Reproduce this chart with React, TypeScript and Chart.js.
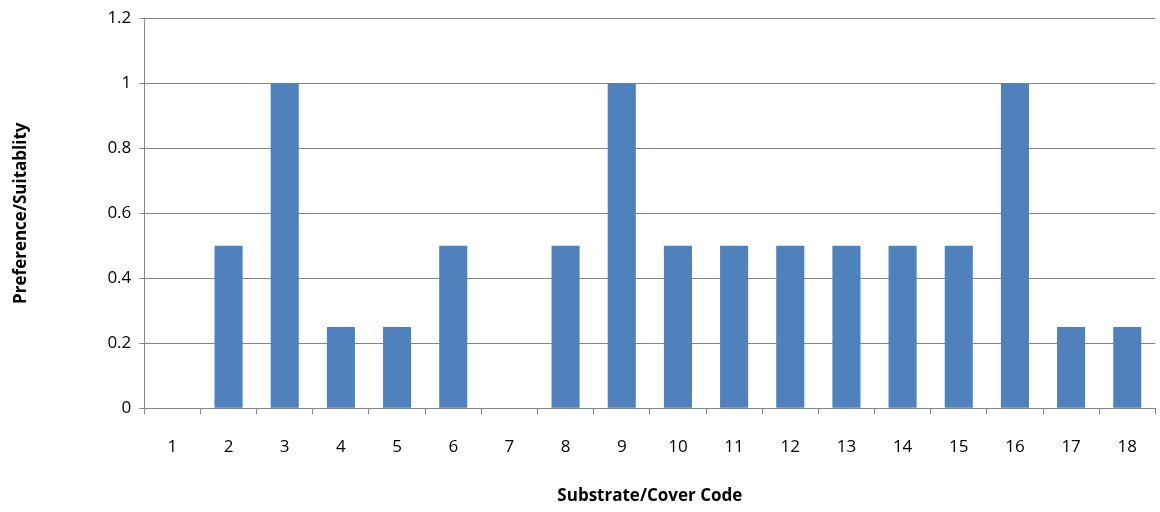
import { useEffect, useRef } from 'react';
import { Chart, registerables } from 'chart.js';

Chart.register(...registerables);

const codes = ['1', '2', '3', '4', '5', '6', '7', '8', '9', '10', '11', '12', '13', '14', '15', '16', '17', '18'];
const suitability = [0, 0.5, 1, 0.25, 0.25, 0.5, 0, 0.5, 1, 0.5, 0.5, 0.5, 0.5, 0.5, 0.5, 1, 0.25, 0.25];

const FONT = '"Open Sans", "Noto Sans", sans-serif';

export default function App() {
  const canvasRef = useRef<HTMLCanvasElement | null>(null);

  useEffect(() => {
    document.body.style.margin = '0';
    const ctx = canvasRef.current?.getContext('2d');
    if (!ctx) return;
    const chart = new Chart(ctx, {
      type: 'bar',
      data: {
        labels: codes,
        datasets: [
          {
            data: suitability,
            backgroundColor: '#4f81bd',
            barPercentage: 0.5,
            categoryPercentage: 1,
          },
        ],
      },
      options: {
        responsive: false,
        animation: false,
        layout: { padding: { top: 9, right: 0, bottom: 6, left: 11 } },
        plugins: { legend: { display: false }, tooltip: { enabled: false } },
        scales: {
          x: {
            offset: true,
            grid: {
              offset: true,
              drawOnChartArea: false,
              drawTicks: true,
              tickLength: 6,
              color: '#868686',
            },
            border: { color: '#868686' },
            ticks: { color: '#000', font: { family: FONT, size: 17 }, padding: 23 },
            title: {
              display: true,
              text: 'Substrate/Cover Code',
              color: '#000',
              font: { family: FONT, size: 17, weight: 'bold' },
              padding: { top: 5, bottom: 0 },
            },
          },
          y: {
            min: 0,
            max: 1.2,
            ticks: {
              stepSize: 0.2,
              color: '#000',
              font: { family: FONT, size: 17 },
              padding: 8,
              callback: (v) => String(Math.round(Number(v) * 10) / 10),
            },
            grid: { color: '#868686', tickLength: 5 },
            border: { color: '#868686' },
            title: {
              display: true,
              text: 'Preference/Suitablity',
              color: '#000',
              font: { family: FONT, size: 17, weight: 'bold' },
              padding: { top: 0, bottom: 68 },
            },
          },
        },
      },
    });
    return () => chart.destroy();
  }, []);

  return <canvas ref={canvasRef} width={1160} height={512} style={{ display: 'block' }} />;
}
